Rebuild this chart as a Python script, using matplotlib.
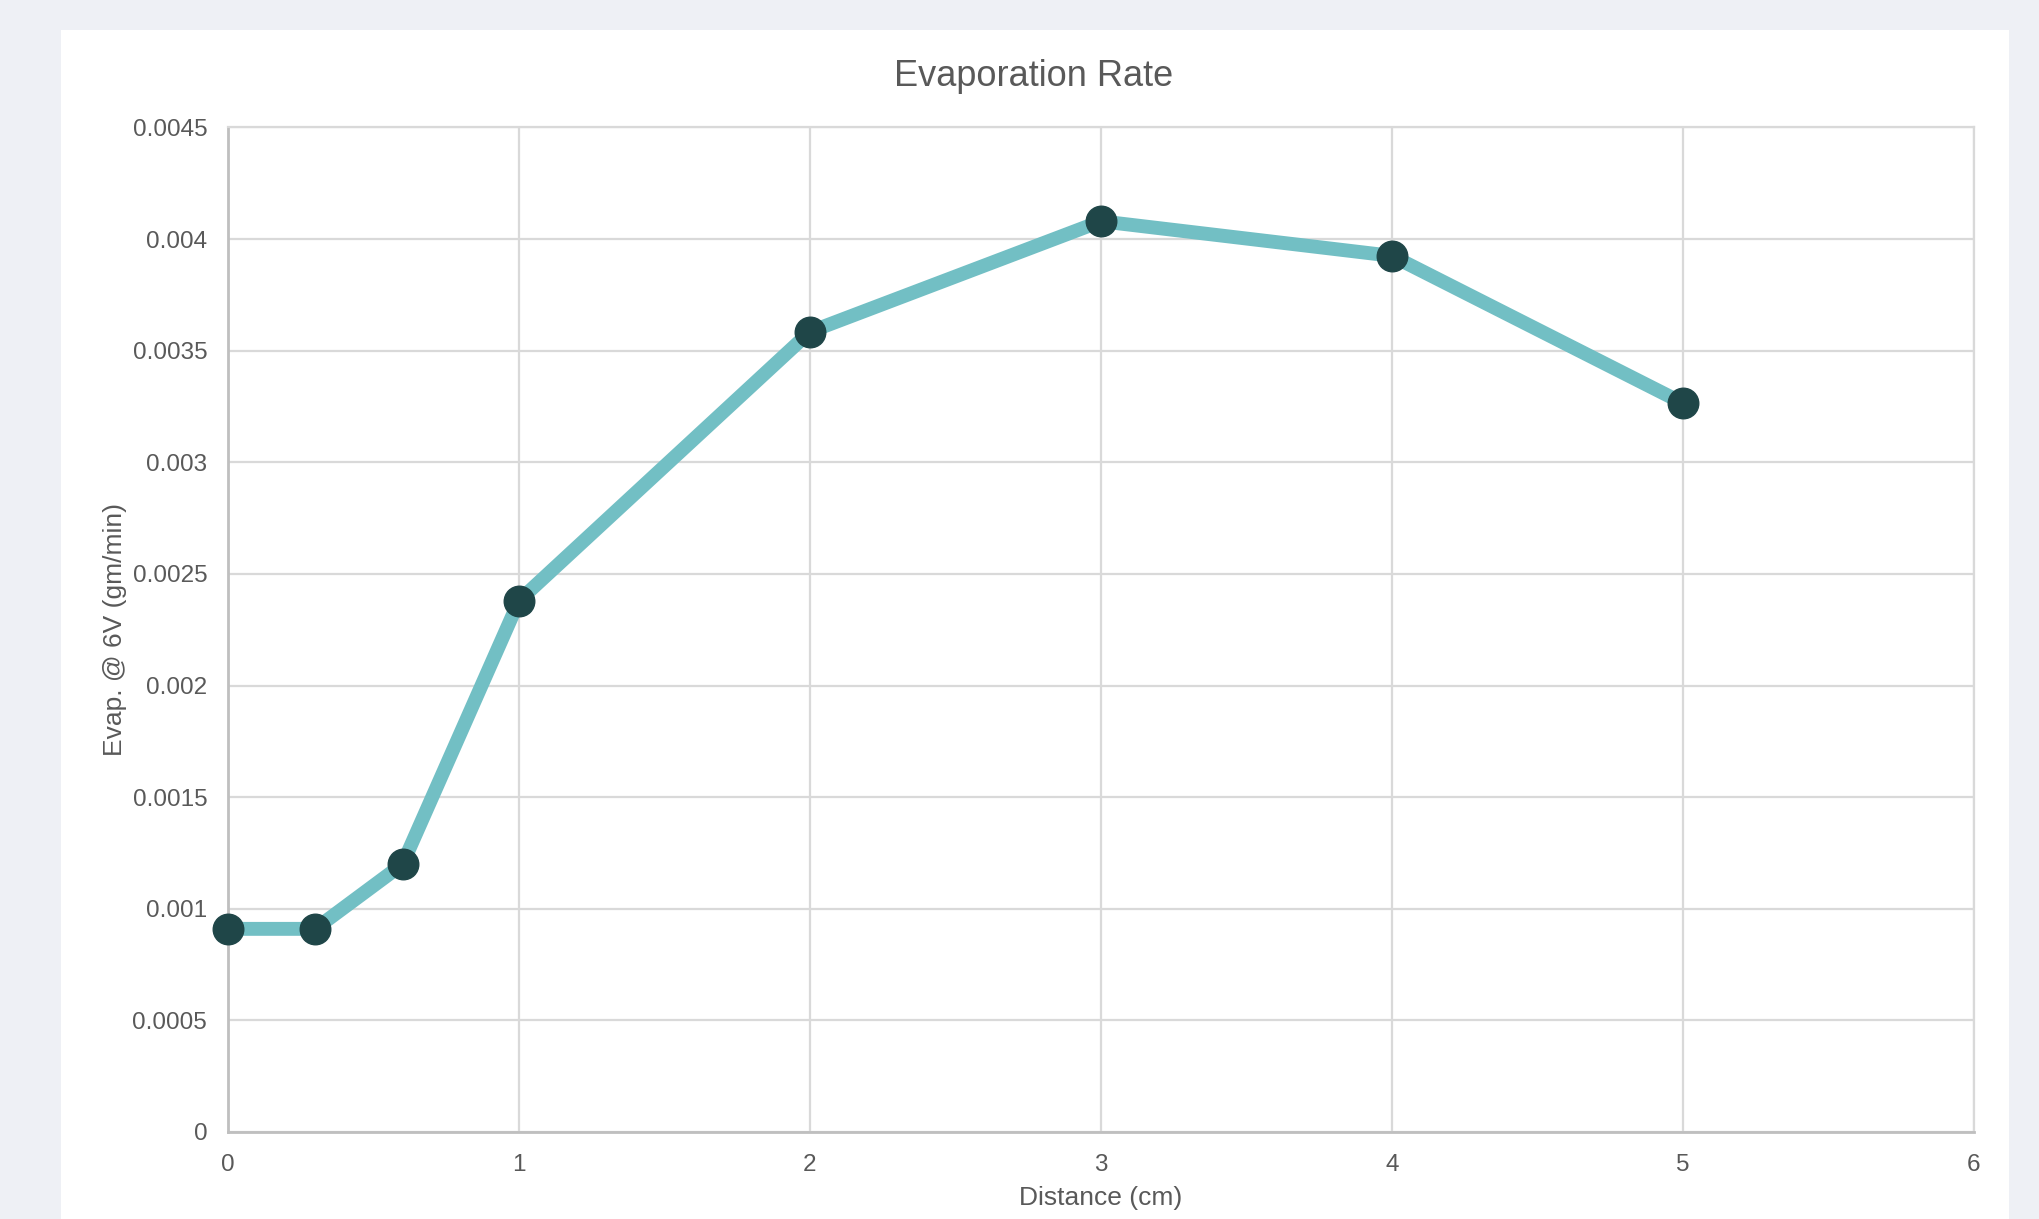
import matplotlib
matplotlib.use("Agg")
import matplotlib.pyplot as plt
import matplotlib.patches as mpatches
from matplotlib.ticker import FuncFormatter, MultipleLocator

# distance from source (cm) and measured evaporation rate at 6V (gm/min)
distance_cm = [0, 0.3, 0.6, 1, 2, 3, 4, 5]
evap_rate = [0.00091, 0.00091, 0.0012, 0.00238, 0.003585, 0.00408, 0.003925, 0.003265]

PLOT_TITLE = "Evaporation Rate"
PLOT_XLABEL = "Distance (cm)"
PLOT_YLABEL = "Evap. @ 6V (gm/min)"

BG_COLOR = "#eef0f5"
LINE_COLOR = "#72bfc4"
MARKER_COLOR = "#1f4648"
GRID_COLOR = "#d9d9d9"
AXIS_COLOR = "#bfbfbf"
TEXT_COLOR = "#595959"

plt.rcParams['font.family'] = ['Liberation Sans', 'DejaVu Sans']

fig = plt.figure(figsize=(20.4, 12.19), dpi=100, facecolor=BG_COLOR)

# white card behind the chart
card = mpatches.Rectangle((61 / 2040, 0), (2009 - 61) / 2040, (1219 - 30) / 1219,
                          transform=fig.transFigure, facecolor="white",
                          edgecolor="none", zorder=-10)
fig.patches.append(card)

ax = fig.add_axes([228 / 2040, 87 / 1219, (1974 - 228) / 2040, (1132 - 127.5) / 1219])
ax.set_facecolor("white")

ax.plot(distance_cm, evap_rate, color=LINE_COLOR, linewidth=10,
        solid_joinstyle="round", zorder=3)
ax.plot(distance_cm, evap_rate, linestyle="none", marker="o", markersize=22,
        markerfacecolor=MARKER_COLOR, markeredgecolor=MARKER_COLOR, zorder=4,
        clip_on=False)

ax.set_xlim(0, 6)
ax.set_ylim(0, 0.0045)
ax.xaxis.set_major_locator(MultipleLocator(1))
ax.yaxis.set_major_locator(MultipleLocator(0.0005))
ax.yaxis.set_major_formatter(FuncFormatter(lambda v, p: "{:g}".format(round(v, 6))))
ax.xaxis.set_major_formatter(FuncFormatter(lambda v, p: "{:g}".format(v)))

ax.grid(True, color=GRID_COLOR, linewidth=1.6, zorder=1)
ax.set_axisbelow(True)
for side in ("top", "right"):
    ax.spines[side].set_color(GRID_COLOR)
    ax.spines[side].set_linewidth(1.6)
for side in ("left", "bottom"):
    ax.spines[side].set_color(AXIS_COLOR)
    ax.spines[side].set_linewidth(2)

ax.tick_params(axis="both", length=0, labelsize=17.5, labelcolor=TEXT_COLOR)
ax.tick_params(axis="x", pad=16)
ax.tick_params(axis="y", pad=15)

ax.set_xlabel(PLOT_XLABEL, fontsize=19, color=TEXT_COLOR, labelpad=7)
ax.set_ylabel(PLOT_YLABEL, fontsize=19, color=TEXT_COLOR)
ax.yaxis.set_label_coords((127 - 228) / 1746, 0.5)

# title is centred on the card rather than on the plot area
fig.text(1034 / 2040, 1 - 77 / 1219, PLOT_TITLE, fontsize=26, color=TEXT_COLOR,
         ha="center", va="center")

fig.savefig("out.png", dpi=100, facecolor=BG_COLOR)
